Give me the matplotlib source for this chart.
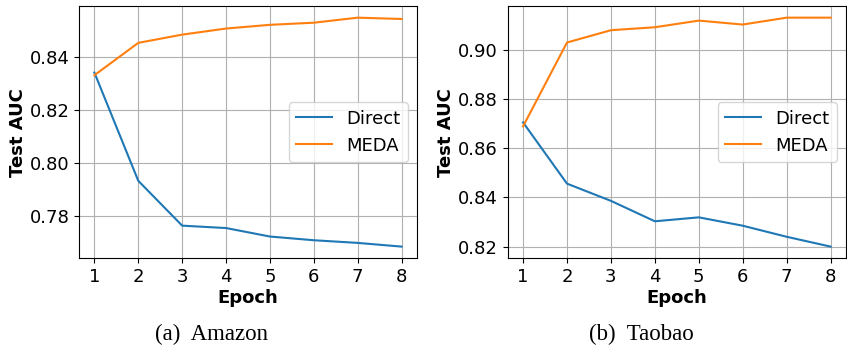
import matplotlib
matplotlib.use('Agg')
import matplotlib.pyplot as plt

epochs = [1, 2, 3, 4, 5, 6, 7, 8]

# Amazon
amazon_direct = [0.8341, 0.7933, 0.7764, 0.7755, 0.7723, 0.7709, 0.7699, 0.7685]
amazon_meda = [0.8331, 0.8453, 0.8484, 0.8507, 0.8521, 0.8529, 0.8548, 0.8543]

# Taobao
taobao_direct = [0.8705, 0.8456, 0.8386, 0.8303, 0.8319, 0.8285, 0.8240, 0.8200]
taobao_meda = [0.8689, 0.9030, 0.9080, 0.9092, 0.9119, 0.9103, 0.9131, 0.9131]

captions = ['(a)  Amazon', '(b)  Taobao']


def draw(ax, direct, meda):
    ax.plot(epochs, direct, label='Direct', color='#1f77b4', lw=1.5)
    ax.plot(epochs, meda, label='MEDA', color='#ff7f0e', lw=1.5)
    ax.set_xticks(epochs)
    ax.tick_params(labelsize=13)
    ax.set_xlabel('Epoch', fontsize=13, fontweight='bold', labelpad=2)
    ax.set_ylabel('Test AUC', fontsize=13, fontweight='bold', labelpad=2)
    ax.grid(True)
    ax.legend(loc='center right', fontsize=13)


def main():
    fig = plt.figure(figsize=(8.47, 3.45), dpi=100)
    ax1 = fig.add_axes([0.0933, 0.252, 0.399, 0.730])
    ax2 = fig.add_axes([0.5994, 0.252, 0.3994, 0.730])

    draw(ax1, amazon_direct, amazon_meda)
    ax1.set_yticks([0.78, 0.80, 0.82, 0.84])
    draw(ax2, taobao_direct, taobao_meda)
    ax2.set_yticks([0.82, 0.84, 0.86, 0.88, 0.90])

    # sub-captions under each panel
    fig.text(211.5 / 847, 1 - 340 / 345, captions[0], ha='center', va='baseline',
             fontsize=16.5, family='Liberation Serif')
    fig.text(641.5 / 847, 1 - 340 / 345, captions[1], ha='center', va='baseline',
             fontsize=16.5, family='Liberation Serif')

    fig.savefig('out.png', dpi=100)


if __name__ == '__main__':
    main()
